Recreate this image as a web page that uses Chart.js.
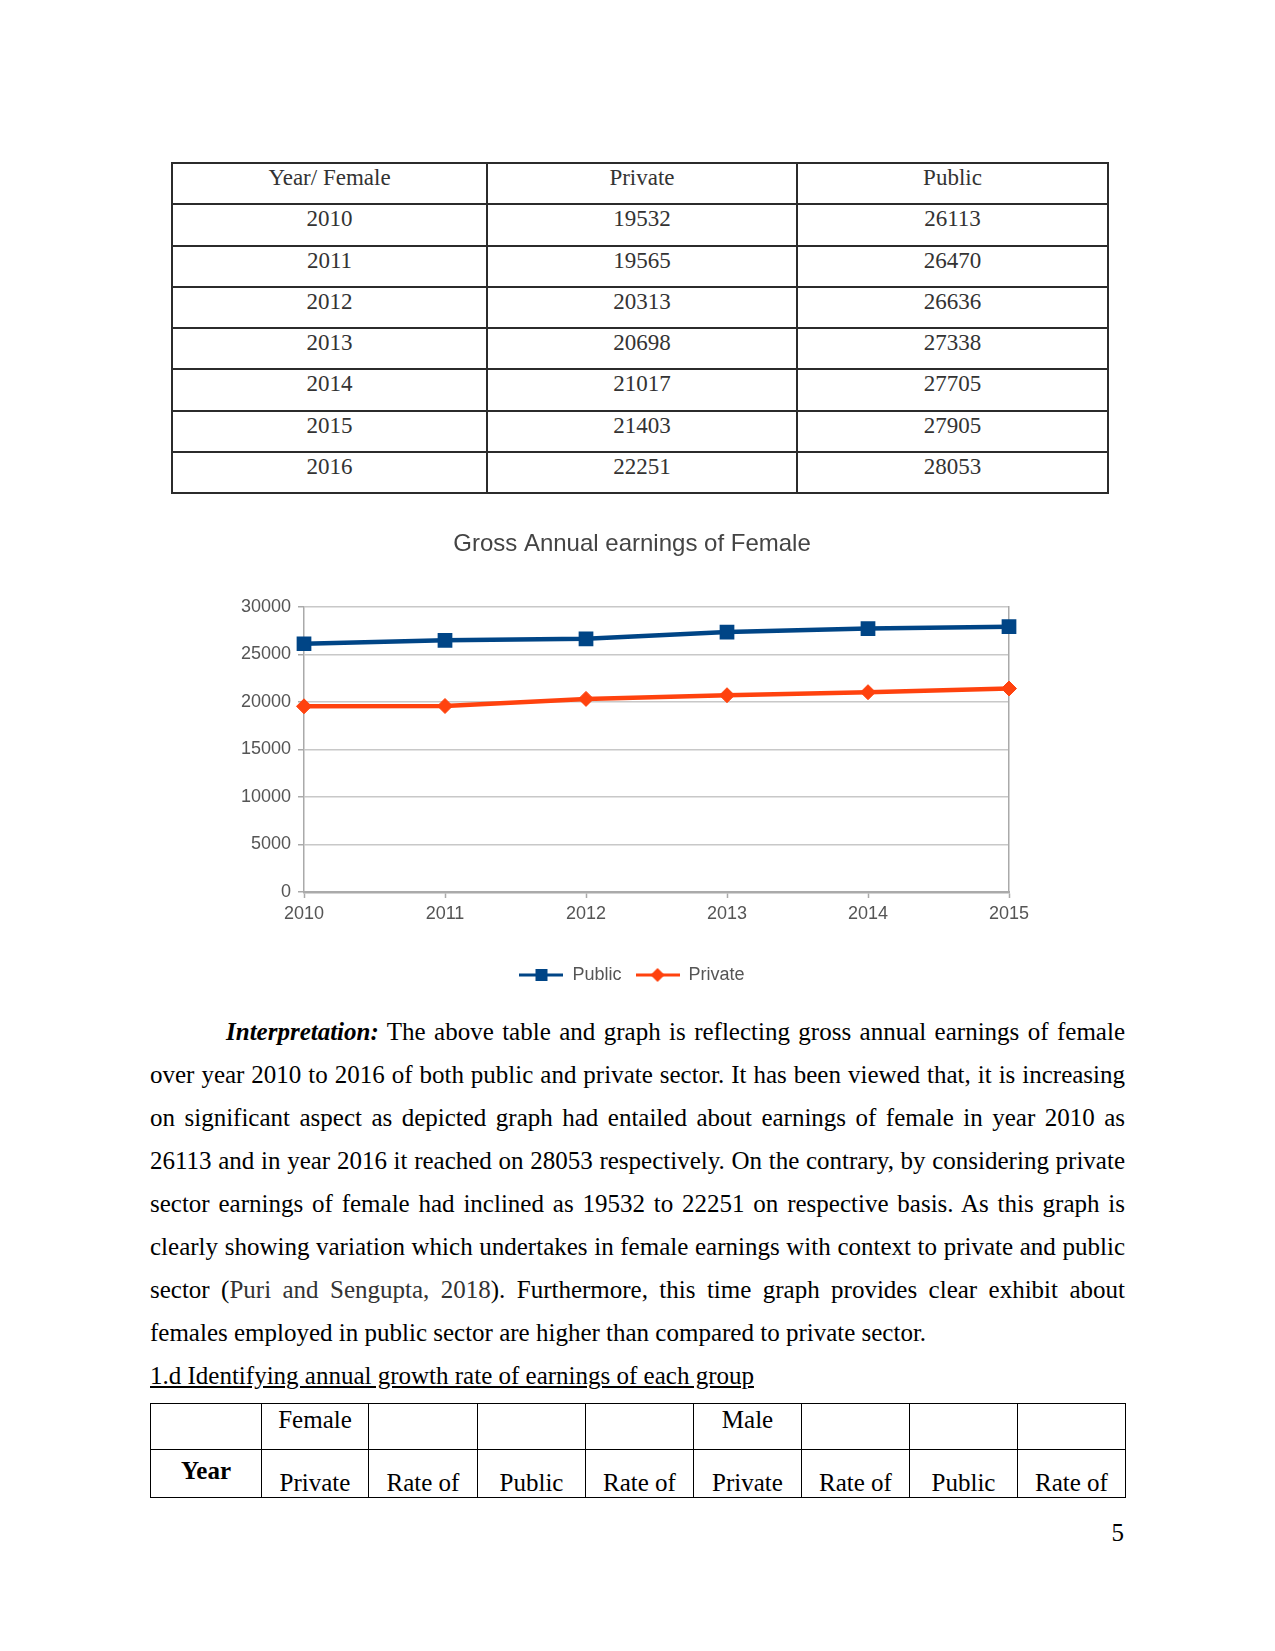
<!DOCTYPE html>
<html>
<head>
<meta charset="utf-8">
<script src="https://cdn.jsdelivr.net/npm/chart.js@4/dist/chart.umd.min.js"></script>
<style>
  body { margin: 0; width: 1275px; height: 1651px; background: #fff; position: relative; font-family: "Liberation Serif", "Times New Roman", serif; color: #000; }
  #dataTable { position: absolute; left: 171px; top: 162px; display: grid; grid-template-columns: 315px 310px 311px; grid-auto-rows: 41.25px; border-top: 2px solid #2b2b2b; border-left: 2px solid #2b2b2b; font-size: 23px; color: #333; }
  #dataTable div { border-right: 2px solid #2b2b2b; border-bottom: 2px solid #2b2b2b; text-align: center; line-height: 26px; padding-top: 1px; box-sizing: border-box; }
  #chartBox { position: absolute; left: 200px; top: 515px; width: 864px; height: 495px; }
  #text { position: absolute; left: 150px; top: 1010px; width: 975px; font-size: 25px; }
  #text .ln { height: 43px; line-height: 43px; text-align: justify; text-align-last: justify; }
  #text .last { text-align-last: left; }
  #growth { position: absolute; left: 150px; top: 1403px; display: grid; grid-template-columns: 111px 107px 109px 108px 108px 108px 108px 108px 108px; grid-template-rows: 46px 48px; border-top: 1px solid #000; border-left: 1px solid #000; font-size: 25px; }
  #growth div { border-right: 1px solid #000; border-bottom: 1px solid #000; text-align: center; line-height: 29px; box-sizing: border-box; }
  #growth .r1 { padding-top: 1px; }
  #growth .yr { padding-top: 6px; font-weight: bold; }
  #growth .r2 { padding-top: 18px; }
  #pageNo { position: absolute; right: 151px; top: 1518px; font-size: 25px; line-height: 29px; }
</style>
</head>
<body>
<div id="dataTable"></div>
<div id="chartBox"><canvas id="chart"></canvas></div>
<div id="text">
  <div class="ln" style="text-indent:76px"><b><i>Interpretation:</i></b> The above table and graph is reflecting gross annual earnings of female</div>
  <div class="ln">over year 2010 to 2016 of both public and private sector. It has been viewed that, it is increasing</div>
  <div class="ln">on significant aspect as depicted graph had entailed about earnings of female in year 2010 as</div>
  <div class="ln">26113 and in year 2016 it reached on 28053 respectively. On the contrary, by considering private</div>
  <div class="ln">sector earnings of female had inclined as 19532 to 22251 on respective basis. As this graph is</div>
  <div class="ln">clearly showing variation which undertakes in female earnings with context to private and public</div>
  <div class="ln">sector (<span style="color:#333">Puri and Sengupta, 2018</span>). Furthermore, this time graph provides clear exhibit about</div>
  <div class="ln last">females employed in public sector are higher than compared to private sector.</div>
  <div class="ln last"><u>1.d Identifying annual growth rate of earnings of each group</u></div>
</div>
<div id="growth">
  <div></div><div class="r1">Female</div><div></div><div></div><div></div><div class="r1">Male</div><div></div><div></div><div></div>
  <div class="yr">Year</div><div class="r2">Private</div><div class="r2">Rate of</div><div class="r2">Public</div><div class="r2">Rate of</div><div class="r2">Private</div><div class="r2">Rate of</div><div class="r2">Public</div><div class="r2">Rate of</div>
</div>
<div id="pageNo">5</div>
<script>
const years = ['2010', '2011', '2012', '2013', '2014', '2015', '2016'];
const privateEarnings = [19532, 19565, 20313, 20698, 21017, 21403, 22251];
const publicEarnings = [26113, 26470, 26636, 27338, 27705, 27905, 28053];
// the graph only runs to 2015
const chartYears = years.slice(0, 6);
const yMin = 0;
const yMax = 30000;
const yStep = 5000;

const publicColor = '#004586';
const privateColor = '#ff420e';
const gridColor = '#c8c8c8';
const textColor = '#555';

// table above the chart
const table = document.querySelector('#dataTable');
const addCell = (txt) => {
  const cell = document.createElement('div');
  cell.textContent = txt;
  table.appendChild(cell);
};
['Year/ Female', 'Private', 'Public'].forEach(addCell);
years.forEach((year, i) => {
  addCell(year);
  addCell(privateEarnings[i]);
  addCell(publicEarnings[i]);
});

// legend icons: line with marker in the middle
const legendIcon = (color, shape) => {
  const c = document.createElement('canvas');
  c.width = 44;
  c.height = 16;
  const ctx = c.getContext('2d');
  ctx.strokeStyle = color;
  ctx.fillStyle = color;
  ctx.lineWidth = 3;
  ctx.beginPath();
  ctx.moveTo(0, 8);
  ctx.lineTo(44, 8);
  ctx.stroke();
  ctx.beginPath();
  if (shape === 'rect') {
    ctx.rect(16, 2, 12, 12);
  } else {
    ctx.moveTo(22, 1);
    ctx.lineTo(29, 8);
    ctx.lineTo(22, 15);
    ctx.lineTo(15, 8);
    ctx.closePath();
  }
  ctx.fill();
  return c;
};
const icons = [legendIcon(publicColor, 'rect'), legendIcon(privateColor, 'rectRot')];

const canvas = document.querySelector('#chart');
new Chart(canvas, {
  type: 'line',
  data: {
    labels: chartYears,
    datasets: [{
      label: 'Public',
      data: publicEarnings.slice(0, 6),
      borderColor: publicColor,
      backgroundColor: publicColor,
      borderWidth: 4.5,
      pointStyle: 'rect',
      pointRadius: 9,
      pointBorderWidth: 2,
      tension: 0,
    }, {
      label: 'Private',
      data: privateEarnings.slice(0, 6),
      borderColor: privateColor,
      backgroundColor: privateColor,
      borderWidth: 4.5,
      pointStyle: 'rectRot',
      pointRadius: 7.5,
      pointBorderWidth: 1,
      tension: 0,
    }],
  },
  options: {
    responsive: true,
    maintainAspectRatio: false,
    animation: false,
    layout: { padding: { left: 0, right: 0, top: 0, bottom: 16 } },
    plugins: {
      title: {
        display: true,
        text: 'Gross Annual earnings of Female',
        color: '#444',
        font: { family: 'Liberation Sans', size: 24, weight: 'normal' },
        padding: { top: 15, bottom: 48 },
      },
      legend: {
        position: 'bottom',
        labels: {
          color: textColor,
          font: { family: 'Liberation Sans', size: 18 },
          usePointStyle: true,
          pointStyleWidth: 44,
          boxHeight: 16,
          padding: 14,
          generateLabels: (chart) => {
            const items = Chart.defaults.plugins.legend.labels.generateLabels(chart);
            items.forEach((item) => { item.pointStyle = icons[item.datasetIndex]; });
            return items;
          },
        },
      },
      tooltip: { enabled: false },
    },
    scales: {
      x: {
        offset: false,
        grid: { drawOnChartArea: false, tickLength: 6, tickColor: '#aaa', tickWidth: 1.5 },
        border: { color: '#aaa', width: 2.5 },
        ticks: { color: textColor, padding: 5, font: { family: 'Liberation Sans', size: 18 } },
        afterFit: (scale) => { scale.height = 60; },
      },
      y: {
        min: yMin,
        max: yMax,
        grid: { color: gridColor, lineWidth: 1.5, tickLength: 6, tickColor: '#aaa' },
        border: { color: '#aaa', width: 1.5 },
        ticks: { stepSize: yStep, color: textColor, padding: 7, font: { family: 'Liberation Sans', size: 18 }, callback: (v) => String(v) },
        afterFit: (scale) => { scale.width = 104; },
      },
      yRight: {
        position: 'right',
        min: yMin,
        max: yMax,
        grid: { drawOnChartArea: false, drawTicks: false },
        border: { color: '#aaa', width: 1.5 },
        ticks: { display: false },
        afterFit: (scale) => { scale.width = 55; },
      },
    },
  },
});
</script>
</body>
</html>
